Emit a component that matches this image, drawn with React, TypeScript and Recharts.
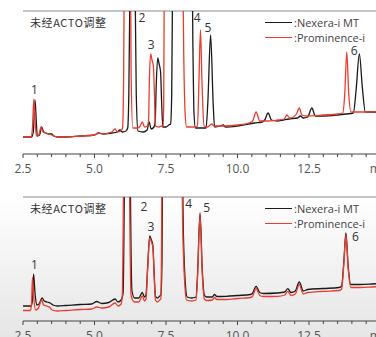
import { LineChart, Line, XAxis, YAxis, ReferenceLine, ReferenceDot, Legend } from 'recharts';

// retention time (min), detector signal (arbitrary units)
const topNexera: [number, number][] = [
  [2.5, 17], [2.8, 17], [2.86, 22], [2.92, 54], [2.97, 30], [3.0, 18], [3.08, 19], [3.15, 27], [3.22, 22],
  [3.3, 21], [3.4, 20], [3.5, 20], [3.58, 18], [3.7, 17], [4.0, 17], [4.5, 18], [5.0, 19], [5.15, 21],
  [5.3, 20], [5.6, 21], [5.8, 22], [5.89, 24], [5.98, 22], [6.1, 23], [6.16, 26], [6.2, 60], [6.25, 200],
  [6.33, 400], [6.41, 200], [6.46, 60], [6.52, 23], [6.7, 22], [6.84, 24], [6.91, 32], [6.98, 25], [7.08, 27],
  [7.12, 32], [7.16, 70], [7.21, 96], [7.26, 90], [7.31, 82], [7.35, 50], [7.39, 27], [7.5, 27], [7.6, 29],
  [7.66, 30], [7.7, 60], [7.76, 300], [8.05, 800], [8.38, 300], [8.44, 110], [8.48, 40], [8.53, 26],
  [8.7, 26], [8.9, 26], [8.96, 50], [9.06, 119], [9.15, 50], [9.2, 27], [9.4, 28], [9.5, 29], [9.58, 27],
  [10.0, 28], [10.6, 31], [10.86, 32], [10.95, 34], [11.07, 41], [11.19, 34], [11.4, 33], [11.6, 34],
  [11.8, 35], [12.1, 36], [12.2, 38], [12.3, 36], [12.45, 37], [12.6, 46], [12.72, 38], [13.0, 38],
  [13.5, 39], [13.8, 40], [14.05, 41], [14.15, 65], [14.26, 100], [14.37, 65], [14.47, 42], [14.8, 42], [15.0, 42],
];

const topProminence: [number, number][] = [
  [2.5, 17], [2.78, 17], [2.83, 26], [2.88, 55], [2.93, 30], [2.97, 18], [3.05, 19], [3.13, 27], [3.2, 22],
  [3.3, 21], [3.4, 20], [3.5, 19], [3.6, 18], [3.7, 17], [4.0, 17], [4.5, 18], [5.0, 19], [5.12, 21],
  [5.3, 20], [5.6, 22], [5.72, 25], [5.8, 22], [5.92, 23], [5.98, 26], [6.02, 80], [6.06, 300], [6.15, 600],
  [6.24, 300], [6.28, 80], [6.34, 26], [6.5, 26], [6.6, 28], [6.67, 32], [6.75, 27], [6.85, 28], [6.89, 34],
  [6.92, 75], [6.965, 100], [7.01, 94], [7.06, 88], [7.1, 55], [7.13, 28], [7.25, 27], [7.35, 28], [7.4, 27],
  [7.42, 50], [7.46, 300], [7.75, 800], [8.05, 300], [8.12, 100], [8.17, 40], [8.22, 27], [8.5, 27],
  [8.6, 28], [8.65, 70], [8.705, 124], [8.76, 70], [8.83, 28], [8.95, 27], [9.1, 30], [9.18, 28],
  [9.5, 28], [10.0, 29], [10.4, 31], [10.53, 33], [10.65, 42], [10.78, 33], [11.0, 33], [11.4, 34],
  [11.63, 35], [11.73, 39], [11.82, 36], [11.95, 37], [12.06, 40], [12.16, 46], [12.25, 39], [12.4, 38],
  [13.0, 39], [13.5, 40], [13.68, 41], [13.75, 60], [13.82, 102], [13.89, 60], [13.97, 42], [14.2, 42],
  [14.6, 42], [15.0, 43],
];

const bottomNexera: [number, number][] = [
  [2.5, 15], [2.78, 15], [2.83, 20], [2.87, 47], [2.92, 28], [2.98, 16], [3.06, 17], [3.17, 23], [3.24, 20],
  [3.34, 19], [3.45, 18], [3.55, 16], [3.7, 15], [4.0, 15.5], [4.5, 16.5], [4.9, 17], [5.08, 19.5],
  [5.25, 17.5], [5.5, 18.5], [5.72, 22], [5.82, 19], [5.93, 21], [6.0, 28], [6.04, 120], [6.08, 300],
  [6.15, 500], [6.22, 300], [6.26, 120], [6.31, 30], [6.4, 23], [6.55, 23], [6.67, 28.5], [6.75, 24],
  [6.8, 26], [6.86, 55], [6.93, 85], [6.99, 81], [7.04, 76], [7.09, 45], [7.13, 25], [7.2, 23], [7.28, 25],
  [7.32, 26], [7.36, 60], [7.4, 250], [7.7, 700], [8.02, 300], [8.1, 100], [8.17, 40], [8.24, 24],
  [8.4, 23], [8.55, 24], [8.6, 45], [8.69, 108], [8.77, 50], [8.84, 26], [8.92, 24], [9.12, 24],
  [9.19, 26.5], [9.28, 24.5], [9.6, 24.7], [10.0, 25.5], [10.45, 26.5], [10.52, 27.5], [10.65, 34.7],
  [10.78, 28.5], [10.9, 27.5], [11.4, 28], [11.65, 29], [11.76, 32.3], [11.87, 28.5], [12.02, 30],
  [12.16, 39], [12.3, 30], [12.45, 31.5], [13.0, 32.5], [13.55, 33.5], [13.64, 35], [13.72, 60],
  [13.79, 88], [13.87, 55], [13.96, 36.5], [14.3, 36.5], [14.7, 37], [15.0, 37.5],
];

const bottomProminence: [number, number][] = [
  [2.5, 10.5], [2.76, 10.5], [2.8, 18], [2.83, 43.5], [2.88, 22], [2.94, 11], [3.04, 13], [3.15, 21],
  [3.22, 16], [3.32, 15], [3.42, 14], [3.52, 11], [3.7, 10], [4.0, 10.5], [4.5, 11.5], [4.9, 12],
  [5.08, 14], [5.25, 13], [5.5, 14], [5.72, 18], [5.82, 15], [5.93, 17], [5.97, 25], [6.01, 120],
  [6.05, 300], [6.12, 500], [6.19, 300], [6.23, 120], [6.28, 25], [6.4, 19], [6.55, 19], [6.67, 25],
  [6.75, 20], [6.8, 22], [6.86, 52], [6.93, 83], [6.99, 79], [7.04, 74], [7.09, 42], [7.13, 21], [7.2, 19],
  [7.28, 21], [7.32, 22], [7.34, 60], [7.38, 250], [7.68, 700], [8.0, 300], [8.08, 100], [8.15, 40],
  [8.22, 21], [8.4, 20], [8.55, 21], [8.6, 42], [8.69, 106], [8.77, 46], [8.84, 22], [8.92, 20.5],
  [9.12, 21], [9.19, 23.5], [9.28, 21.5], [9.6, 21.5], [10.0, 22.5], [10.45, 23.5], [10.52, 24.5],
  [10.65, 32.3], [10.78, 25.5], [10.9, 24.5], [11.4, 24.7], [11.65, 26], [11.76, 29.7], [11.87, 25.5],
  [12.02, 27], [12.16, 36.3], [12.3, 27], [12.45, 28.5], [13.0, 29.7], [13.55, 30.5], [13.64, 32],
  [13.72, 58], [13.79, 86], [13.87, 52], [13.96, 33.5], [14.3, 33.5], [14.7, 34], [15.0, 34.5],
];

// peak numbers: [label, time, signal]
const topPeakLabels: [string, number, number][] = [
  ['1', 2.9, 64], ['2', 6.66, 136], ['3', 6.98, 109], ['4', 8.59, 136], ['5', 8.97, 126], ['6', 14.08, 103],
];
const bottomPeakLabels: [string, number, number][] = [
  ['1', 2.9, 56], ['2', 6.73, 114], ['3', 6.97, 94], ['4', 8.29, 117], ['5', 8.92, 113], ['6', 14.12, 84],
];

const majorTicks = [2.5, 5, 7.5, 10, 12.5, 15];
const allTicks = [
  2.5, 3, 3.5, 4, 4.5, 5, 5.5, 6, 6.5, 7, 7.5, 8, 8.5, 9, 9.5, 10, 10.5, 11, 11.5, 12, 12.5, 13, 13.5, 14, 14.5, 15,
];

const title = '未经ACTO调整';
const seriesNames = ['Nexera-i MT', 'Prominence-i'];
const colors = ['#1a1a1a', '#ee3b2d'];

const FONT = '"Open Sans", "Noto Sans", sans-serif';

const toRows = (pts: [number, number][]) => pts.map(([t, v]) => ({ t, v }));

const TimeTick = (props: any) => {
  const { x, y, payload } = props;
  const major = majorTicks.includes(payload.value);
  return (
    <g>
      <line x1={x} x2={x} y1={y} y2={y + (major ? 4 : 3)} stroke="#444" strokeWidth={1} />
      {major && (
        <text x={x} y={y + 19} textAnchor="middle" fontSize={12} fill="#555" fontFamily={FONT}>
          {payload.value === 15 ? 'min' : payload.value.toFixed(1)}
        </text>
      )}
    </g>
  );
};

const renderLegend = (props: any) => (
  <div style={{ position: 'relative', width: 110, height: 30, fontFamily: FONT, fontSize: 11, color: '#444' }}>
    {(props.payload || []).map((entry: any, i: number) => (
      <div key={entry.value} style={{ position: 'absolute', left: 0, top: i * 15, height: 15, whiteSpace: 'nowrap' }}>
        <span style={{ position: 'absolute', left: 0, top: 7, width: 27, height: 0, borderTop: `1.3px solid ${entry.color}` }} />
        <span style={{ position: 'absolute', left: 29, top: 0, lineHeight: '15px' }}>:{entry.value}</span>
      </div>
    ))}
  </div>
);

function Panel({ nexera, prominence, labels, yMax, height }: {
  nexera: [number, number][];
  prominence: [number, number][];
  labels: [string, number, number][];
  yMax: number;
  height: number;
}) {
  return (
    <div style={{ position: 'relative', width: 400, height }}>
      <LineChart width={400} height={height} margin={{ top: 11, right: 19.5, left: 23, bottom: 6 }}>
        <XAxis
          type="number"
          dataKey="t"
          domain={[2.5, 15]}
          allowDataOverflow
          ticks={allTicks}
          interval={0}
          height={20}
          tickSize={0}
          tickMargin={0}
          tickLine={false}
          axisLine={{ stroke: '#444' }}
          tick={<TimeTick />}
        />
        <YAxis
          type="number"
          domain={[0, yMax]}
          allowDataOverflow
          width={0}
          tick={false}
          tickLine={false}
          axisLine={{ stroke: '#8c8c8c' }}
        />
        <ReferenceLine y={yMax} stroke="#8c8c8c" />
        <Legend
          layout="vertical"
          align="center"
          verticalAlign="middle"
          content={renderLegend}
          wrapperStyle={{ left: 265, top: 15, width: 110, height: 30 }}
        />
        <Line
          data={toRows(nexera)}
          dataKey="v"
          name={seriesNames[0]}
          type="monotone"
          stroke={colors[0]}
          strokeWidth={1.3}
          dot={false}
          isAnimationActive={false}
        />
        <Line
          data={toRows(prominence)}
          dataKey="v"
          name={seriesNames[1]}
          type="monotone"
          stroke={colors[1]}
          strokeWidth={1.3}
          dot={false}
          isAnimationActive={false}
        />
        {labels.map(([name, t, v]) => (
          <ReferenceDot
            key={name}
            x={t}
            y={v}
            r={0}
            fill="none"
            stroke="none"
            label={{ value: name, position: 'center', fill: '#333', fontSize: 12, fontFamily: FONT }}
          />
        ))}
      </LineChart>
      <div
        style={{
          position: 'absolute', left: 30, top: 15, fontSize: 11, lineHeight: '15px', color: '#333',
          fontFamily: '"Noto Sans CJK SC", "Open Sans", sans-serif', letterSpacing: 0.6, whiteSpace: 'nowrap',
        }}
      >
        {title}
      </div>
    </div>
  );
}

export default function App() {
  return (
    <div
      style={{
        position: 'fixed', left: 0, top: 0, width: 376, height: 337, overflow: 'hidden',
        background: 'linear-gradient(to bottom, #ffffff 0px, #ffffff 195px, #e6e6e6 337px)',
      }}
    >
      <div style={{ position: 'absolute', left: 0, top: 0 }}>
        <Panel nexera={topNexera} prominence={topProminence} labels={topPeakLabels} yMax={143} height={180} />
      </div>
      <div style={{ position: 'absolute', left: 0, top: 186 }}>
        <Panel nexera={bottomNexera} prominence={bottomProminence} labels={bottomPeakLabels} yMax={124} height={161} />
      </div>
    </div>
  );
}
